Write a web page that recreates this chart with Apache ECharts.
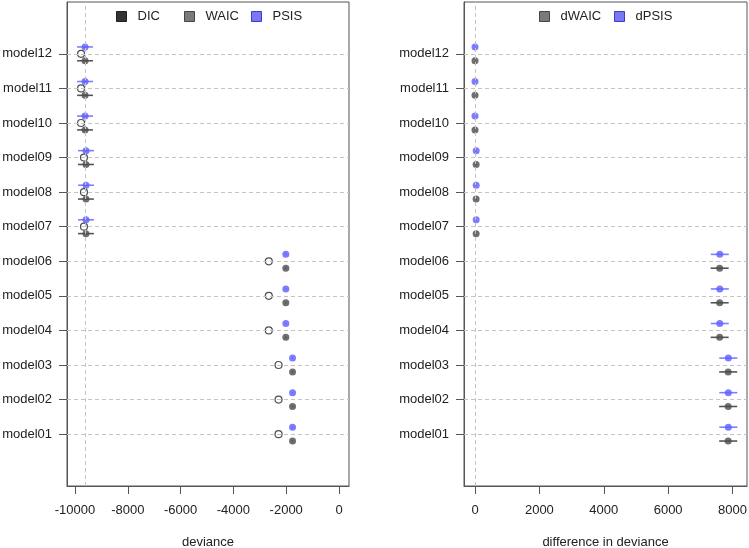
<!DOCTYPE html>
<html>
<head>
<meta charset="utf-8">
<title>deviance comparison</title>
<script src="https://cdn.jsdelivr.net/npm/echarts@6/dist/echarts.min.js"></script>
<style>
    html, body { margin: 0; padding: 0; background: #fff; }
    #chart { width: 749px; height: 548px; }
</style>
</head>
<body>
<div id="chart"></div>
<script>
    // model names, bottom to top
    const models = ['model01', 'model02', 'model03', 'model04', 'model05', 'model06',
        'model07', 'model08', 'model09', 'model10', 'model11', 'model12'];

    // left panel: deviance
    const dic = [-2290, -2290, -2290, -2660, -2660, -2660, -9660, -9660, -9660, -9770, -9770, -9770];
    const waic = [-1760, -1760, -1760, -2015, -2015, -2015, -9585, -9585, -9585, -9620, -9620, -9620];
    const waicSE = [25, 25, 25, 25, 25, 25, 300, 300, 300, 300, 300, 300];
    const psis = [-1760, -1760, -1760, -2015, -2015, -2015, -9583, -9583, -9583, -9620, -9620, -9620];
    const psisSE = [25, 25, 25, 25, 25, 25, 300, 300, 300, 300, 300, 300];

    // right panel: difference in deviance
    const dwaic = [7865, 7865, 7865, 7600, 7600, 7600, 35, 35, 35, 0, 0, 0];
    const dwaicSE = [280, 280, 280, 280, 280, 280, 15, 15, 15, 0, 0, 0];
    const dpsis = [7870, 7870, 7870, 7605, 7605, 7605, 37, 37, 37, 0, 0, 0];
    const dpsisSE = [280, 280, 280, 280, 280, 280, 15, 15, 15, 0, 0, 0];

    const leftTicks = [-10000, -8000, -6000, -4000, -2000, 0];
    const rightTicks = [0, 2000, 4000, 6000, 8000];

    const FONT = '"Liberation Sans", Arial, sans-serif';
    const BLUE = '#5c5cff';
    const BLUE_BAR = '#7d7dff';
    const DARK = '#4b4b4b';
    const DARK_BAR = '#555555';
    const modelPos = models.map((m, i) => i + 1);

    const chart = echarts.init(document.getElementById('chart'));

    // horizontal error bar: value dims [lo, hi, y]
    function errorBars(name, vals, se, shift, color, idx) {
        return {
            name: name,
            type: 'custom',
            xAxisIndex: idx,
            yAxisIndex: idx,
            z: 3,
            silent: true,
            encode: {x: [0, 1], y: 2},
            data: vals.map((v, i) => [v - se[i], v + se[i], i + 1 + shift]),
            renderItem(params, api) {
                const p1 = api.coord([api.value(0), api.value(2)]);
                const p2 = api.coord([api.value(1), api.value(2)]);
                return {
                    type: 'line',
                    shape: {x1: p1[0], y1: p1[1], x2: p2[0], y2: p2[1]},
                    style: {stroke: color, lineWidth: 1.6}
                };
            }
        };
    }

    function dots(name, vals, shift, itemStyle, idx) {
        return {
            name: name,
            type: 'scatter',
            xAxisIndex: idx,
            yAxisIndex: idx,
            z: 4,
            symbol: 'circle',
            symbolSize: 7,
            itemStyle: itemStyle,
            data: vals.map((v, i) => [v, i + 1 + shift])
        };
    }

    // dashed guide lines, drawn below the points
    function guides(idx, refX) {
        return {
            type: 'scatter',
            xAxisIndex: idx,
            yAxisIndex: idx,
            z: 1,
            silent: true,
            data: [],
            markLine: {
                silent: true,
                symbol: 'none',
                animation: false,
                label: {show: false},
                lineStyle: {color: '#c4c4c4', type: [4, 3], width: 1},
                data: modelPos.map(p => ({yAxis: p})).concat([{xAxis: refX}])
            }
        };
    }

    function xAxisOf(idx, min, max, ticks, name) {
        return {
            type: 'value',
            gridIndex: idx,
            min: min,
            max: max,
            name: name,
            nameLocation: 'middle',
            nameGap: 50,
            nameTextStyle: {fontFamily: FONT, fontSize: 13, color: '#222'},
            axisLine: {show: true, onZero: false, lineStyle: {color: '#555', width: 1}},
            axisTick: {show: true, inside: false, length: 8, customValues: ticks, lineStyle: {color: '#555'}},
            axisLabel: {
                customValues: ticks,
                margin: 18,
                fontFamily: FONT, fontSize: 13, color: '#222',
                formatter: v => String(v)
            },
            splitLine: {show: false}
        };
    }

    function yAxisOf(idx) {
        return {
            type: 'value',
            gridIndex: idx,
            min: -0.5,
            max: 13.5,
            axisLine: {show: true, onZero: false, lineStyle: {color: '#555', width: 1}},
            axisTick: {show: true, inside: false, length: 8, customValues: modelPos, lineStyle: {color: '#555'}},
            axisLabel: {
                customValues: modelPos,
                margin: 15,
                fontFamily: FONT, fontSize: 13, color: '#222',
                formatter: v => models[Math.round(v) - 1] || ''
            },
            splitLine: {show: false}
        };
    }

    // one legend entry each, so the columns sit where the R legend put them
    function legendItem(left, name, fill, border) {
        return {
            left: left, top: 10, padding: 0,
            itemWidth: 10, itemHeight: 10,
            icon: 'rect',
            selectedMode: false,
            textStyle: {fontFamily: FONT, fontSize: 13, color: '#222', padding: [0, 0, 0, 6]},
            data: [{name: name, itemStyle: {color: fill, borderColor: border, borderWidth: 1}}]
        };
    }

    const gridBase = {
        top: 2, bottom: 62,
        show: true, borderColor: '#555', borderWidth: 1,
        backgroundColor: 'transparent',
        containLabel: false,
        outerBoundsMode: 'none'
    };

    const option = {
        animation: false,
        backgroundColor: '#fff',
        grid: [
            Object.assign({left: 67, right: 400}, gridBase),
            Object.assign({left: 464, right: 2}, gridBase)
        ],
        legend: [
            legendItem(116, 'DIC', '#000', '#000'),
            legendItem(184, 'WAIC', '#7a7a7a', '#444'),
            legendItem(251, 'PSIS', '#7878f0', '#3c3cc8'),
            legendItem(539, 'dWAIC', '#7a7a7a', '#444'),
            legendItem(614, 'dPSIS', '#7878f0', '#3c3cc8')
        ],
        xAxis: [
            xAxisOf(0, -10303, 378, leftTicks, 'deviance'),
            xAxisOf(1, -342, 8450, rightTicks, 'difference in deviance')
        ],
        yAxis: [yAxisOf(0), yAxisOf(1)],
        series: [
            guides(0, Math.min(...waic)),
            guides(1, 0),
            // left panel
            errorBars('PSIS', psis, psisSE, 0.2, BLUE_BAR, 0),
            errorBars('WAIC', waic, waicSE, -0.2, DARK_BAR, 0),
            dots('PSIS', psis, 0.2, {color: BLUE}, 0),
            dots('DIC', dic, 0, {color: '#fff', borderColor: '#222', borderWidth: 1.2}, 0),
            dots('WAIC', waic, -0.2, {color: DARK}, 0),
            // right panel
            errorBars('dPSIS', dpsis, dpsisSE, 0.2, BLUE_BAR, 1),
            errorBars('dWAIC', dwaic, dwaicSE, -0.2, DARK_BAR, 1),
            dots('dPSIS', dpsis, 0.2, {color: BLUE}, 1),
            dots('dWAIC', dwaic, -0.2, {color: DARK}, 1)
        ]
    };

    chart.setOption(option);
</script>
</body>
</html>
